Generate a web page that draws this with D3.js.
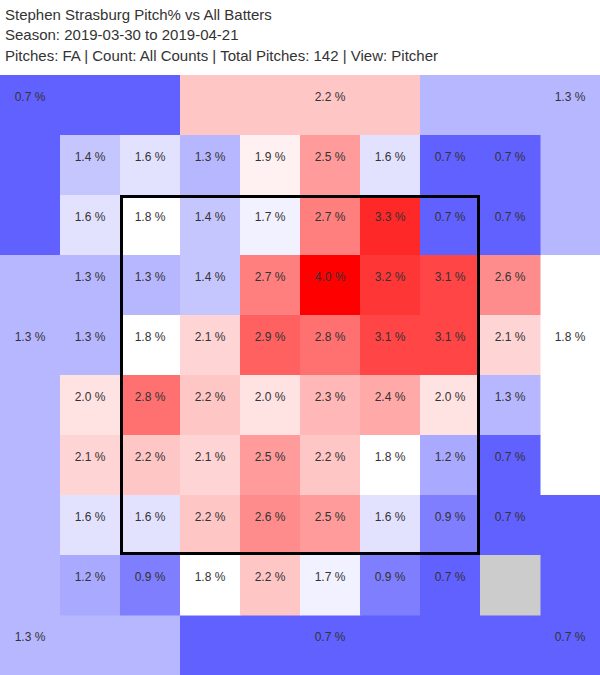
<!DOCTYPE html>
<html>
<head>
<meta charset="utf-8">
<script src="https://d3js.org/d3.v7.min.js"></script>
<style>
  body { margin: 0; background: #fff; }
  svg { display: block; font-family: "Liberation Sans", Arial, sans-serif; }
</style>
</head>
<body>
<div id="chart"></div>
<script>
// title lines
const titleLines = [
    'Stephen Strasburg Pitch% vs All Batters',
    'Season: 2019-03-30 to 2019-04-21',
    'Pitches: FA | Count: All Counts | Total Pitches: 142 | View: Pitcher'
];

// inner 8x8 zone values (pitch %), top row first, null = no data
const innerRows = [
    [1.4, 1.6, 1.3, 1.9, 2.5, 1.6, 0.7, 0.7],
    [1.6, 1.8, 1.4, 1.7, 2.7, 3.3, 0.7, 0.7],
    [1.3, 1.3, 1.4, 2.7, 4.0, 3.2, 3.1, 2.6],
    [1.3, 1.8, 2.1, 2.9, 2.8, 3.1, 3.1, 2.1],
    [2.0, 2.8, 2.2, 2.0, 2.3, 2.4, 2.0, 1.3],
    [2.1, 2.2, 2.1, 2.5, 2.2, 1.8, 1.2, 0.7],
    [1.6, 1.6, 2.2, 2.6, 2.5, 1.6, 0.9, 0.7],
    [1.2, 0.9, 1.8, 2.2, 1.7, 0.9, 0.7, null]
];

// outer zones
const outerNames = ['top-left', 'top-mid', 'top-right', 'left', 'right', 'bottom-left', 'bottom-mid', 'bottom-right'];
const outerValues = [0.7, 2.2, 1.3, 1.3, 1.8, 1.3, 0.7, 0.7];

// 10x10 grid, 60px cells, starts under the title
const width = 600, height = 675, gridTop = 75;
const idx = d3.range(10);
const x = d3.scaleBand().domain(idx).range([0, width]);
const y = d3.scaleBand().domain(idx).range([gridTop, height]);

// cells (col,row) making each outer zone, plus the cell holding its label
const outerShapes = {
    'top-left':     { cells: [[0,0],[1,0],[2,0],[0,1],[0,2]], label: [0,0] },
    'top-mid':      { cells: [[3,0],[4,0],[5,0],[6,0]], label: [5,0] },
    'top-right':    { cells: [[7,0],[8,0],[9,0],[9,1],[9,2]], label: [9,0] },
    'left':         { cells: [[0,3],[0,4],[0,5],[0,6]], label: [0,4] },
    'right':        { cells: [[9,3],[9,4],[9,5],[9,6]], label: [9,4] },
    'bottom-left':  { cells: [[0,9],[1,9],[2,9],[0,7],[0,8]], label: [0,9] },
    'bottom-mid':   { cells: [[3,9],[4,9],[5,9],[6,9]], label: [5,9] },
    'bottom-right': { cells: [[7,9],[8,9],[9,9],[9,7],[9,8]], label: [9,9] }
};

// diverging blue - white - red, white around 1.8 %
const color = d3.scaleLinear()
    .domain([0.02, 1.8, 3.58])
    .range(['#0000ff', '#ffffff', '#ff0000'])
    .clamp(true);

const fmt = v => v.toFixed(1) + ' %';

const svg = d3.select('#chart').append('svg')
    .attr('width', width)
    .attr('height', height);

// title
svg.append('g').selectAll('text')
    .data(titleLines)
    .join('text')
    .attr('x', 5)
    .attr('y', (d, i) => 20 + i * 20.3)
    .attr('font-size', 15)
    .attr('fill', '#333')
    .text(d => d);

// outer zones
const outer = outerNames.map((name, i) => ({ name, value: outerValues[i], ...outerShapes[name] }));

svg.append('g').selectAll('g')
    .data(outer)
    .join('g')
    .each(function(d) {
        d3.select(this).selectAll('rect')
            .data(d.cells)
            .join('rect')
            .attr('x', c => x(c[0]))
            .attr('y', c => y(c[1]))
            .attr('width', x.bandwidth() + 0.5)
            .attr('height', y.bandwidth() + 0.5)
            .attr('fill', color(d.value));
    });

// inner zones
const inner = [];
innerRows.forEach((row, r) => row.forEach((v, c) => inner.push({ col: c + 1, row: r + 1, value: v })));

svg.append('g').selectAll('rect')
    .data(inner)
    .join('rect')
    .attr('x', d => x(d.col))
    .attr('y', d => y(d.row))
    .attr('width', x.bandwidth() + 0.5)
    .attr('height', y.bandwidth() + 0.5)
    .attr('fill', d => d.value == null ? '#cccccc' : color(d.value));

// labels
const labels = outer.map(d => ({ col: d.label[0], row: d.label[1], value: d.value }))
    .concat(inner.filter(d => d.value != null));

svg.append('g').selectAll('text')
    .data(labels)
    .join('text')
    .attr('x', d => x(d.col) + x.bandwidth() / 2)
    .attr('y', d => y(d.row) + 26)
    .attr('text-anchor', 'middle')
    .attr('font-size', 12)
    .attr('fill', '#333')
    .text(d => fmt(d.value));

// strike zone (cols/rows 2..7)
svg.append('rect')
    .attr('x', x(2) + 1.5)
    .attr('y', y(2) + 1.5)
    .attr('width', x(7) + x.bandwidth() - x(2) - 3)
    .attr('height', y(7) + y.bandwidth() - y(2) - 3)
    .attr('fill', 'none')
    .attr('stroke', '#000')
    .attr('stroke-width', 3);
</script>
</body>
</html>
